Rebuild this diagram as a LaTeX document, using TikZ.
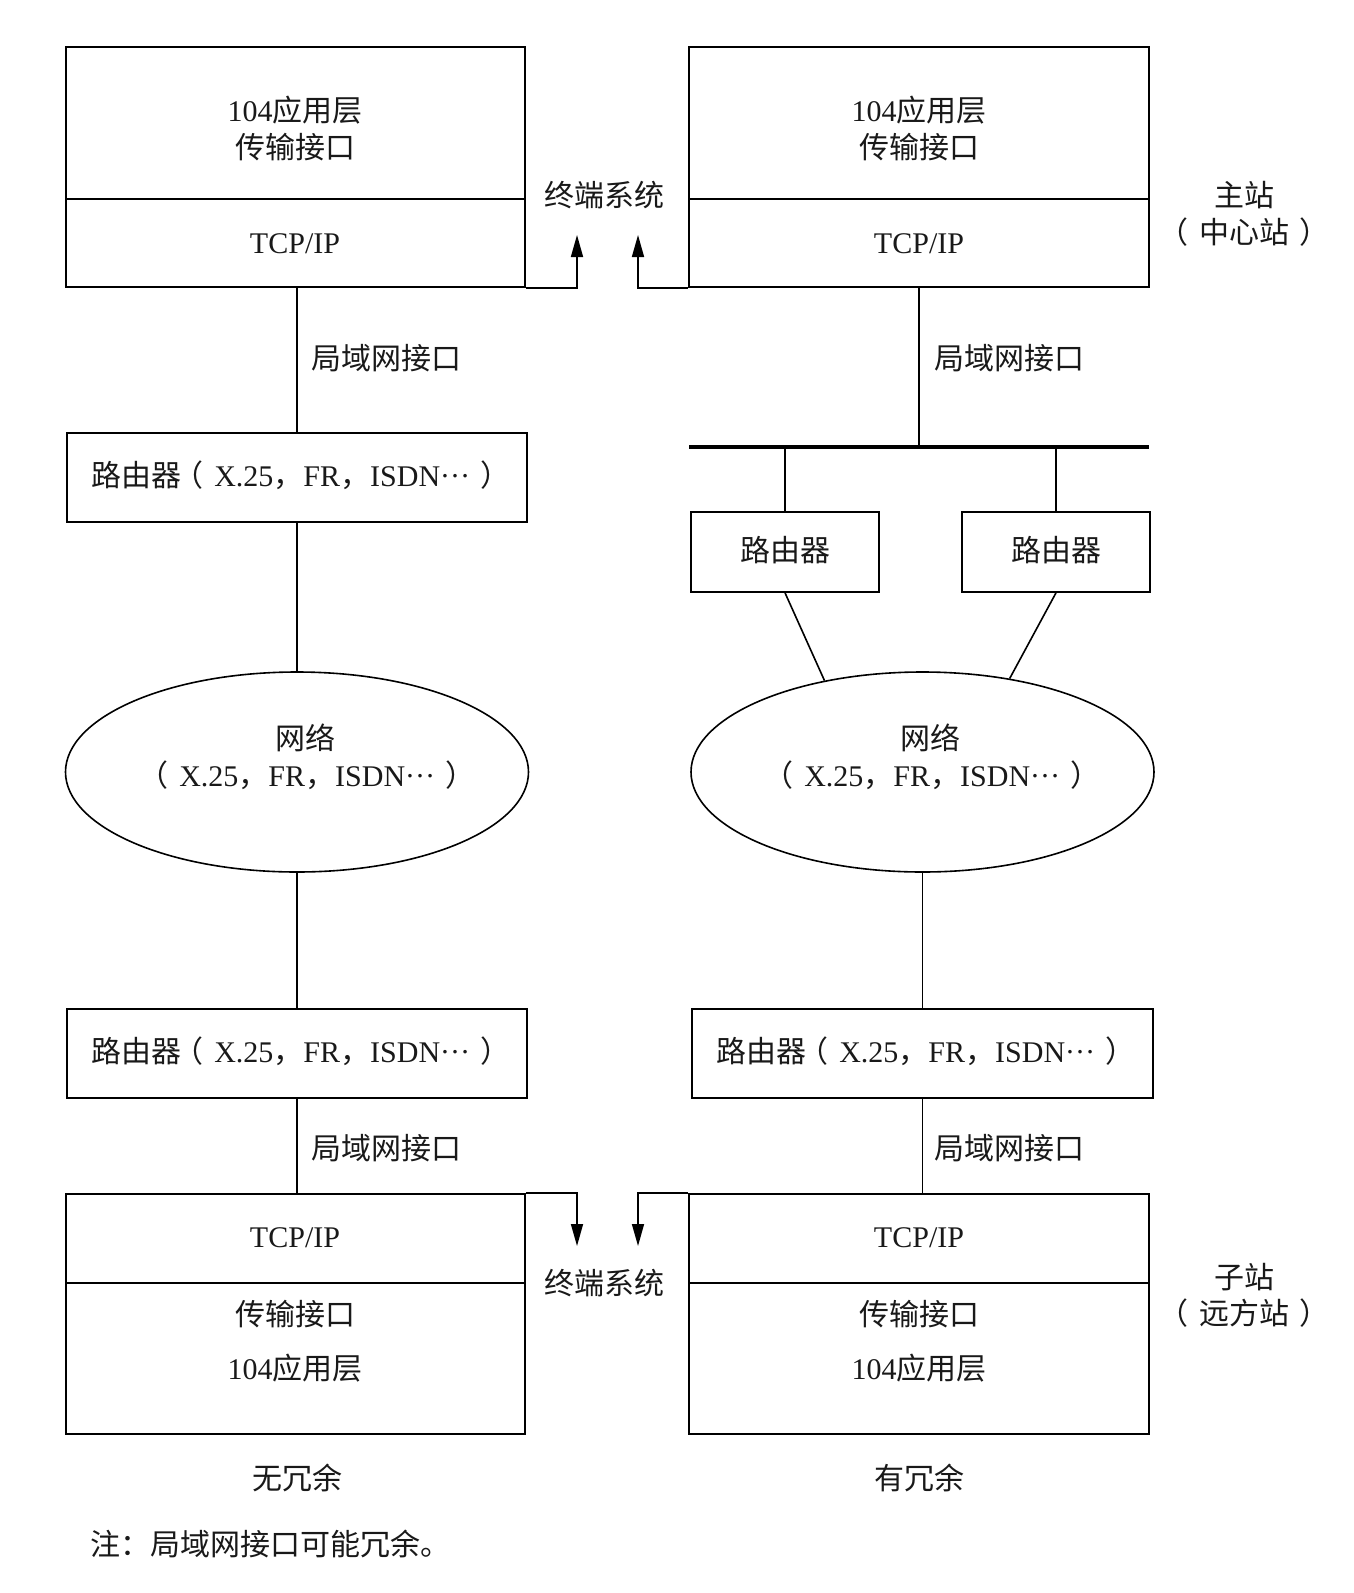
\documentclass[tikz,border=0pt]{standalone}
\usepackage{fontspec}
\setmainfont{Liberation Serif}
\newfontfamily\cjk{Noto Sans CJK SC}
\newcommand\zh[1]{{\cjk #1}}
\newcommand\lpar{\hspace{-0.25em}{\cjk （}\hspace{0.35em}}
\newcommand\rpar{\hspace{0.35em}{\cjk ）}\hspace{-0.25em}}
\newcommand\mdots{\raisebox{0.3em}{…}}
\newcommand\nettxt{X.25\zh{，}FR\zh{，}ISDN\mdots}
\usetikzlibrary{shapes.geometric,arrows.meta}
\begin{document}
\begin{tikzpicture}[x=1pt,y=-1pt,
  every node/.style={font=\fontsize{30}{36}\selectfont, inner sep=0pt},
  box/.style={draw, line width=1.6pt, rectangle},
  ell/.style={draw, line width=1.6pt, ellipse, minimum width=463pt, minimum height=200pt},
  wire/.style={line width=1.6pt},
  arr/.style={line width=1.6pt, -{Triangle[length=22pt,width=12pt]}},
  bus/.style={line width=4.5pt},
  txt/.style={text=black!90}]
\useasboundingbox (0,0) rectangle (1353,1593);
% ---------- top left end system
\node[box, minimum width=459pt, minimum height=152pt] (tlA) at (295.5,123) {};
\node[box, minimum width=459pt, minimum height=88pt] (tlB) at (295.5,243) {};
\node[txt] (tlA1) at (295,110) {104\zh{应用层}};
\node[txt] (tlA2) at (295,147) {\zh{传输接口}};
\node[txt] (tlB1) at (295,244) {TCP/IP};
% ---------- top right end system
\node[box, minimum width=460pt, minimum height=152pt] (trA) at (919,123) {};
\node[box, minimum width=460pt, minimum height=88pt] (trB) at (919,243) {};
\node[txt] (trA1) at (919,110) {104\zh{应用层}};
\node[txt] (trA2) at (919,147) {\zh{传输接口}};
\node[txt] (trB1) at (919,244) {TCP/IP};
% end system labels and arrows
\node[txt] (es1) at (604,195) {\zh{终端系统}};
\coordinate (tu1) at (577,235);
\coordinate (tu2) at (638,235);
\draw[arr] (tlB.south east) -| (tu1);
\draw[arr] (trB.south west) -| (tu2);
\node[txt] (zz1) at (1244,195) {\zh{主站}};
\node[txt] (zz2) at (1248,232) {\lpar\zh{中心站}\rpar};
% ---------- left chain
\node[txt] (lan1) at (386,358) {\zh{局域网接口}};
\node[box, minimum width=460pt, minimum height=89pt] (r1) at (297,477.5) {};
\node[txt] (r1t) at (301,475) {\zh{路由器}\lpar\nettxt\rpar};
\node[ell] (e1) at (297,772) {};
\node[txt] (e1a) at (305,738) {\zh{网络}};
\node[txt] (e1b) at (311,775) {\lpar\nettxt\rpar};
\node[box, minimum width=460pt, minimum height=89pt] (r2) at (297,1053.5) {};
\node[txt] (r2t) at (301,1051) {\zh{路由器}\lpar\nettxt\rpar};
\node[txt] (lan2) at (386,1148) {\zh{局域网接口}};
\node[box, minimum width=459pt, minimum height=89pt] (blA) at (295.5,1238.5) {};
\node[box, minimum width=459pt, minimum height=151pt] (blB) at (295.5,1358.5) {};
\node[txt] (blA1) at (295,1238) {TCP/IP};
\node[txt] (blB1) at (295,1314) {\zh{传输接口}};
\node[txt] (blB2) at (295,1368) {104\zh{应用层}};
\node[txt] (nr1) at (297,1478) {\zh{无冗余}};
\draw[wire] (tlB.south -| r1.north) -- (r1.north);
\draw[wire] (r1.south) -- (e1.north);
\draw[wire] (e1.south) -- (r2.north);
\draw[wire] (r2.south) -- (r2.south |- blA.north);
% ---------- right chain
\node[txt] (lan3) at (1009,358) {\zh{局域网接口}};
\coordinate (busL) at (689,447);
\coordinate (busR) at (1149,447);
\coordinate (busM) at (919,447);
\draw[bus] (busL) -- (busR);
\draw[wire] (trB.south) -- (busM);
\node[box, minimum width=188pt, minimum height=80pt] (ra) at (785,552) {};
\node[box, minimum width=188pt, minimum height=80pt] (rb) at (1056,552) {};
\node[txt] (rat) at (785,550) {\zh{路由器}};
\node[txt] (rbt) at (1056,550) {\zh{路由器}};
\draw[wire] (ra.north |- busM) -- (ra.north);
\draw[wire] (rb.north |- busM) -- (rb.north);
\node[ell] (e2) at (922.5,772) {};
\node[txt] (e2a) at (930,738) {\zh{网络}};
\node[txt] (e2b) at (936,775) {\lpar\nettxt\rpar};
\draw[wire] (ra.south) -- (e2.137);
\draw[wire] (rb.south) -- (e2.47);
\node[box, minimum width=461pt, minimum height=89pt] (r3) at (922.5,1053.5) {};
\node[txt] (r3t) at (926,1051) {\zh{路由器}\lpar\nettxt\rpar};
\draw[wire] (e2.south) -- (r3.north);
\node[txt] (lan4) at (1009,1148) {\zh{局域网接口}};
\node[box, minimum width=460pt, minimum height=89pt] (brA) at (919,1238.5) {};
\node[box, minimum width=460pt, minimum height=151pt] (brB) at (919,1358.5) {};
\node[txt] (brA1) at (919,1238) {TCP/IP};
\node[txt] (brB1) at (919,1314) {\zh{传输接口}};
\node[txt] (brB2) at (919,1368) {104\zh{应用层}};
\node[txt] (nr2) at (919,1478) {\zh{有冗余}};
\draw[wire] (r3.south) -- (r3.south |- brA.north);
% bottom end system
\node[txt] (es2) at (604,1283) {\zh{终端系统}};
\coordinate (bd1) at (577,1246);
\coordinate (bd2) at (638,1246);
\draw[arr] (blA.north east) -| (bd1);
\draw[arr] (brA.north west) -| (bd2);
\node[txt] (zz3) at (1244,1277) {\zh{子站}};
\node[txt] (zz4) at (1248,1313) {\lpar\zh{远方站}\rpar};
% note
\node[txt, anchor=west] (note) at (90,1544) {\zh{注：局域网接口可能冗余。}};
\end{tikzpicture}
\end{document}
